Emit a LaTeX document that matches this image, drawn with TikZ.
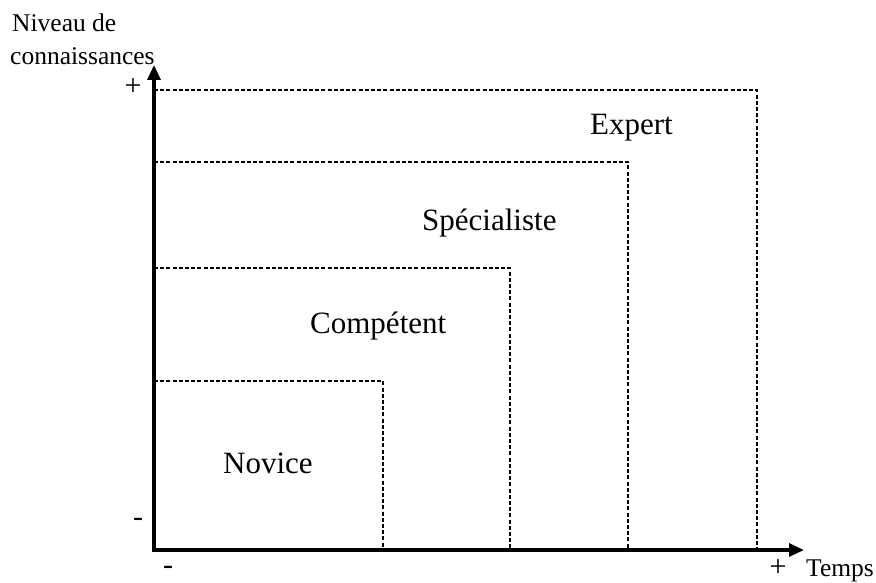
\documentclass[tikz,border=0pt]{standalone}
\usepackage{fontspec}
\setmainfont{Liberation Serif}
\usetikzlibrary{arrows.meta}
\begin{document}
\begin{tikzpicture}[x=1pt,y=-1pt,
  axis/.style={line width=3.2pt,{Triangle[length=15pt,width=13pt]}-{Triangle[length=15pt,width=13pt]}},
  level/.style={line width=1.2pt,dash pattern=on 4pt off 2.2pt},
  lvlabel/.style={font=\fontsize{31}{36}\selectfont,anchor=base west,inner sep=0pt},
  axlabel/.style={font=\fontsize{25.5}{30}\selectfont,anchor=base west,inner sep=0pt},
  sign/.style={font=\fontsize{30}{34}\selectfont,inner sep=0pt}]
\useasboundingbox (0,0) rectangle (876,583);
\coordinate (O) at (154,550);
\coordinate (ytip) at (154,65);
\coordinate (xtip) at (804,550);
% level boxes
\coordinate (n1) at (154,381); \coordinate (n2) at (383,381); \coordinate (n3) at (383,550);
\coordinate (c1) at (154,268); \coordinate (c2) at (510,268); \coordinate (c3) at (510,550);
\coordinate (s1) at (154,162); \coordinate (s2) at (628,162); \coordinate (s3) at (628,550);
\coordinate (e1) at (154,90);  \coordinate (e2) at (757,90);  \coordinate (e3) at (757,550);
\draw[level] (n1) -- (n2) -- (n3);
\draw[level] (c1) -- (c2) -- (c3);
\draw[level] (s1) -- (s2) -- (s3);
\draw[level] (e1) -- (e2) -- (e3);
% axes
\draw[axis] (ytip) -- (O) -- (xtip);
% labels
\node[lvlabel] (novice) at (223,473) {Novice};
\node[lvlabel] (comp) at (310,333) {Compétent};
\node[lvlabel] (spec) at (422,230) {Spécialiste};
\node[lvlabel] (expert) at (590,135) {Expert};
\node[axlabel] (niv1) at (12,32) {Niveau de};
\node[axlabel] (niv2) at (10,65) {connaissances};
\node[axlabel] (temps) at (806,576) {Temps};
\node[sign] (yplus) at (133,87) {+};
\node[sign] (yminus) at (138,522) {-};
\node[sign] (xminus) at (168,570) {-};
\node[sign] (xplus) at (778,568) {+};
\end{tikzpicture}
\end{document}
